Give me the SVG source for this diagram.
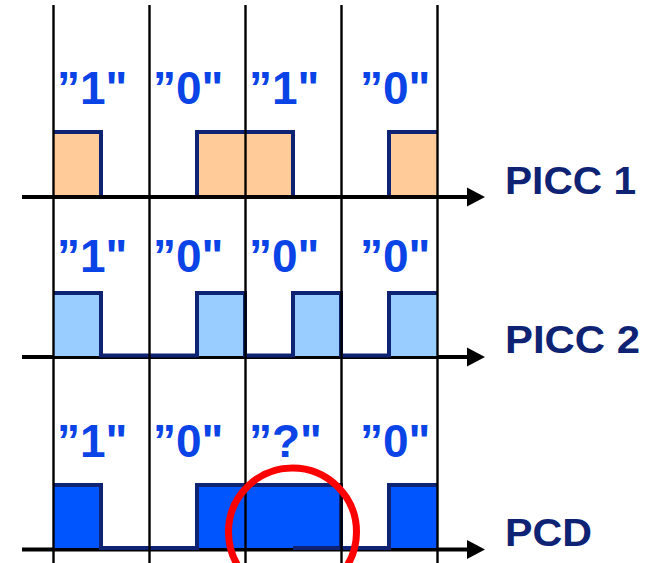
<svg xmlns="http://www.w3.org/2000/svg" width="658" height="563" viewBox="0 0 658 563">
  <style>
    .bit { font-family: "Liberation Sans", Arial, sans-serif; font-weight: bold; font-size: 46px; fill: #0a44e6; }
    .name { font-family: "Liberation Sans", Arial, sans-serif; font-weight: bold; font-size: 38px; fill: #0f2374; }
    .wave { fill: none; stroke: #0f2374; stroke-width: 4; stroke-linejoin: miter; }
    .axis { stroke: #000; stroke-width: 4; }
    .grid { stroke: #000; stroke-width: 2.4; }
    .head { fill: #000; }
  </style>
  <rect width="658" height="563" fill="#fff"/>

  <!-- time axes -->
  <g id="connectors">
    <line class="axis" x1="22" y1="197" x2="468" y2="197"/>
    <polygon class="head" points="467,187.5 485,197 467,206.5"/>
    <line class="axis" x1="22" y1="357" x2="468" y2="357"/>
    <polygon class="head" points="467,347.5 485,357 467,366.5"/>
    <line class="axis" x1="22" y1="549.5" x2="468" y2="549.5"/>
    <polygon class="head" points="467,540 485,549.5 467,559"/>
  </g>

  <!-- PICC 1 : 1 0 1 0 -->
  <g id="picc1">
    <g fill="#ffcc99">
      <rect x="53" y="132" width="48" height="63"/>
      <rect x="197" y="132" width="96" height="63"/>
      <rect x="389" y="132" width="48" height="63"/>
    </g>
    <path class="wave" d="M53,132 H101 V195 M197,195 V132 H293 V195 M389,195 V132 H437"/>
    <text class="bit" x="57" y="104">”1"</text>
    <text class="bit" x="153" y="104">”0"</text>
    <text class="bit" x="249" y="104">”1"</text>
    <text class="bit" x="360" y="104">”0"</text>
    <text class="name" x="505" y="194" textLength="131" lengthAdjust="spacingAndGlyphs">PICC 1</text>
  </g>

  <!-- PICC 2 : 1 0 0 0 -->
  <g id="picc2">
    <g fill="#99ccff">
      <rect x="53" y="293" width="48" height="63"/>
      <rect x="197" y="293" width="48" height="63"/>
      <rect x="293" y="293" width="48" height="63"/>
      <rect x="389" y="293" width="48" height="63"/>
    </g>
    <path class="wave" d="M53,293 H101 V355.5 H197 V293 H245 V355.5 H293 V293 H341 V355.5 H389 V293 H437"/>
    <text class="bit" x="57" y="272">”1"</text>
    <text class="bit" x="153" y="272">”0"</text>
    <text class="bit" x="249" y="272">”0"</text>
    <text class="bit" x="360" y="272">”0"</text>
    <text class="name" x="505" y="353" textLength="135" lengthAdjust="spacingAndGlyphs">PICC 2</text>
  </g>

  <!-- PCD : superposition of both answers -->
  <g id="pcd">
    <g fill="#0055ff">
      <rect x="53" y="485" width="48" height="63"/>
      <rect x="197" y="485" width="144" height="63"/>
      <rect x="389" y="485" width="48" height="63"/>
    </g>
    <path class="wave" d="M53,485 H101 V548 H197 V485 H341 V548 H389 V485 H437 M293,548 H341"/>
    <text class="bit" x="57" y="457">”1"</text>
    <text class="bit" x="153" y="457">”0"</text>
    <text class="bit" x="249" y="457">”?"</text>
    <text class="bit" x="360" y="457">”0"</text>
    <text class="name" x="505" y="546" textLength="87" lengthAdjust="spacingAndGlyphs">PCD</text>
  </g>

  <!-- bit cell boundaries -->
  <g id="grid">
    <line class="grid" x1="53.5" y1="5" x2="53.5" y2="563"/>
    <line class="grid" x1="149.5" y1="5" x2="149.5" y2="563"/>
    <line class="grid" x1="245.5" y1="5" x2="245.5" y2="563"/>
    <line class="grid" x1="341.5" y1="5" x2="341.5" y2="563"/>
    <line class="grid" x1="437.5" y1="5" x2="437.5" y2="563"/>
  </g>

  <!-- collision marker -->
  <g id="collision">
    <circle cx="292.5" cy="532" r="64" fill="none" stroke="#ff0000" stroke-width="7"/>
  </g>
</svg>
